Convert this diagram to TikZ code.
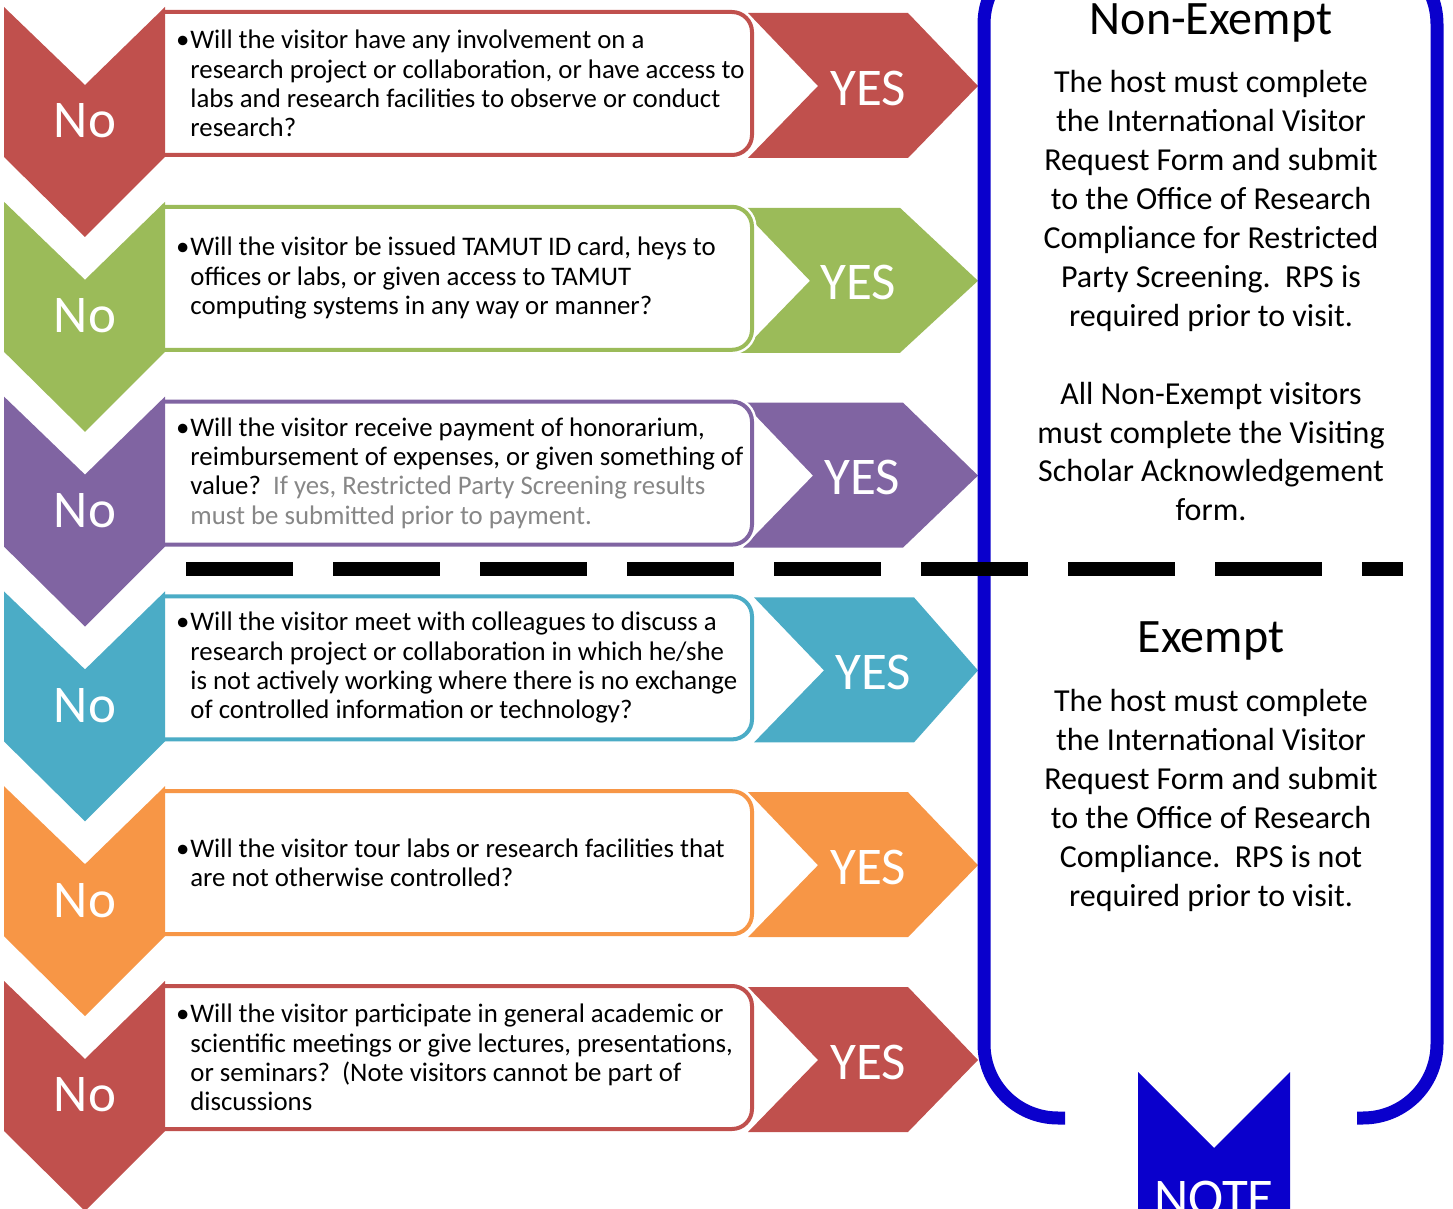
\documentclass[tikz,border=0pt]{standalone}
\usepackage{fontspec}
\setmainfont{Carlito}

\definecolor{rowred}{HTML}{C0504D}
\definecolor{rowgreen}{HTML}{9BBB59}
\definecolor{rowpurple}{HTML}{8064A2}
\definecolor{rowteal}{HTML}{4BACC6}
\definecolor{roworange}{HTML}{F79646}
\definecolor{noteblue}{HTML}{0A00CC}
\definecolor{notegray}{HTML}{878787}

\tikzset{
  nolabel/.style={text=white, inner sep=0pt, font=\fontsize{26.5}{30}\selectfont},
  qbox/.style={draw=#1, line width=2pt, fill=white, rounded corners=10pt,
    preaction={draw=white, line width=4.5pt}},
  qtext/.style={anchor=west, align=left, inner sep=0pt, font=\fontsize{13.4}{14.65}\selectfont},
  rhead/.style={inner sep=0pt, font=\fontsize{24}{28}\selectfont},
  rtext/.style={align=center, inner sep=0pt, font=\fontsize{16}{19.5}\selectfont},
  noteline/.style={draw=noteblue, line width=6.5pt, rounded corners=37pt},
}
\newcommand{\qbullet}{\llap{\textbullet\hspace{0.5pt}}}

\begin{document}
\begin{tikzpicture}[x=0.5pt, y=-0.5pt]
  \useasboundingbox (0,0) rectangle (1453,1209);
  \clip (0,0) rectangle (1453,1209);

  % one row: YES arrow, question box, No chevron
  \foreach \c/\dx/\yx [count=\i] in {rowred/0/868, rowgreen/-8/858, rowpurple/-5/862,
      rowteal/6/873, roworange/0/868, rowred/0/868} {
    \begin{scope}[shift={(0,{7+194.8*(\i-1)})}]
      \fill[\c] ({748+\dx},6) -- ({908+\dx},6) -- (978,79) -- ({908+\dx},151)
        -- ({748+\dx},151) -- ({818+\dx},79) -- cycle;
      \node[nolabel] (yes\i) at (\yx,81) {YES};
      \draw[qbox=\c] (163,5) -- (752,5) -- (752,148) -- (163,148);
      \fill[\c] (4,0) -- (85,78) -- (165,0) -- (165,150) -- (85,230) -- (4,150) -- cycle;
      \node[nolabel] (no\i) at (85,114) {No};
    \end{scope}
  }

  % bracket, split line and note
  \draw[noteline] (1065,1118) -- (984,1118) -- (984,-50) -- (1437,-50) -- (1437,1118) -- (1357,1118);
  \draw[line width=6.5pt, dash pattern=on 53.5pt off 20pt] (186,569) -- (1403,569);
  \fill[noteblue] (1138,1072) -- (1214,1148) -- (1290,1072) -- (1290,1240) -- (1138,1240) -- cycle;
  \node[nolabel, anchor=base] (note) at (1214,1215) {NOTE};

  % questions
  \node[qtext] (q1) at (190,83.5) {\qbullet Will the visitor have any involvement on a\\
    research project or collaboration, or have access to\\
    labs and research facilities to observe or conduct\\
    research?};
  \node[qtext] (q2) at (190,278.3) {\qbullet Will the visitor be issued TAMUT ID card, heys to\\
    offices or labs, or given access to TAMUT\\
    computing systems in any way or manner?};
  \node[qtext] (q3) at (190,473.1) {\qbullet Will the visitor receive payment of honorarium,\\
    reimbursement of expenses, or given something of\\
    value?\ \ \textcolor{notegray}{If yes, Restricted Party Screening results}\\
    \textcolor{notegray}{must be submitted prior to payment.}};
  \node[qtext] (q4) at (190,667.9) {\qbullet Will the visitor meet with colleagues to discuss a\\
    research project or collaboration in which he/she\\
    is not actively working where there is no exchange\\
    of controlled information or technology?};
  \node[qtext] (q5) at (190,862.7) {\qbullet Will the visitor tour labs or research facilities that\\
    are not otherwise controlled?};
  \node[qtext] (q6) at (190,1057.5) {\qbullet Will the visitor participate in general academic or\\
    scientific meetings or give lectures, presentations,\\
    or seminars?\ \ (Note visitors cannot be part of\\
    discussions};

  % outcomes (base of a multi-line node is its last line)
  \node[rhead, anchor=base] (nonexempt) at (1211,35) {Non-Exempt};
  \node[rtext, anchor=base] (nonexempttext) at (1211,521) {The host must complete\\
    the International Visitor\\
    Request Form and submit\\
    to the Office of Research\\
    Compliance for Restricted\\
    Party Screening.\ \ RPS is\\
    required prior to visit.\\[19.5pt]
    All Non-Exempt visitors\\
    must complete the Visiting\\
    Scholar Acknowledgement\\
    form.};
  \node[rhead, anchor=base] (exempt) at (1211,653) {Exempt};
  \node[rtext, anchor=base] (exempttext) at (1211,906) {The host must complete\\
    the International Visitor\\
    Request Form and submit\\
    to the Office of Research\\
    Compliance.\ \ RPS is not\\
    required prior to visit.};
\end{tikzpicture}
\end{document}
